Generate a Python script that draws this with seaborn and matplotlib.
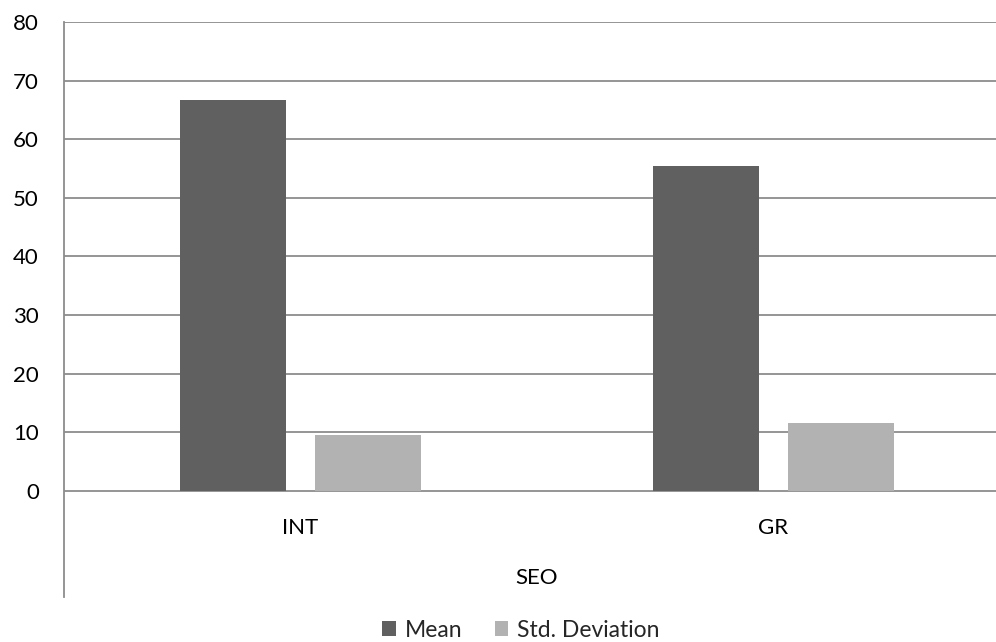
import matplotlib
matplotlib.use("Agg")
import matplotlib.pyplot as plt
import matplotlib.transforms as mtransforms
import seaborn as sns
import pandas as pd

categories = ["INT", "GR"]
series_names = ["Mean", "Std. Deviation"]
mean_values = [66.7, 55.5]
std_values = [9.5, 11.6]
group_label = "SEO"
y_ticks = [0, 10, 20, 30, 40, 50, 60, 70, 80]

df = pd.DataFrame({
    "cat": categories * 2,
    "series": [series_names[0]] * 2 + [series_names[1]] * 2,
    "value": mean_values + std_values,
})

sns.set_theme(style="white")
plt.rcParams["font.family"] = ["Lato", "DejaVu Sans"]

fig = plt.figure(figsize=(9.96, 6.42), dpi=100)
ax = fig.add_axes([64 / 996, 1 - 597 / 642, 946 / 996, (597 - 22) / 642])

palette = {series_names[0]: "#606060", series_names[1]: "#b2b2b2"}
sns.barplot(data=df, x="cat", y="value", hue="series", order=categories,
            hue_order=series_names, palette=palette, width=0.57, gap=0.21,
            saturation=1, ax=ax, legend=True, zorder=3, linewidth=0)

ax.set_ylim(-18.1, 80)
ax.set_xlim(-0.5, 1.5)
ax.set_yticks(y_ticks)
ax.set_yticklabels([str(t) for t in y_ticks], fontsize=16, color="#000000")
ax.tick_params(axis="y", length=0, pad=18)
ax.set_xticks([])
ax.set_xlabel("")
ax.set_ylabel("")
for t in y_ticks:
    ax.axhline(t, color="#8c8c8c", lw=1.3, zorder=1)
for s in ["top", "right", "bottom"]:
    ax.spines[s].set_visible(False)
ax.spines["left"].set_color("#8c8c8c")
ax.spines["left"].set_linewidth(1.3)

for i, c in enumerate(categories):
    ax.text(i, -6.3, c, ha="center", va="center", fontsize=16, color="#000000")
ax.text(0.5, -14.8, group_label, ha="center", va="center", fontsize=16,
        color="#000000",
        transform=mtransforms.blended_transform_factory(
            fig.transFigure, ax.transData) if False else
        mtransforms.blended_transform_factory(ax.transAxes, ax.transData))

handles, labels = ax.get_legend_handles_labels()
ax.get_legend().remove()
fig.legend(handles, labels, loc="lower center", bbox_to_anchor=(0.523, -0.03),
           ncol=2, frameon=False, fontsize=16.5, handlelength=0.6, handleheight=0.6,
           handletextpad=0.4, columnspacing=1.4)

fig.savefig("out.png", dpi=100)
